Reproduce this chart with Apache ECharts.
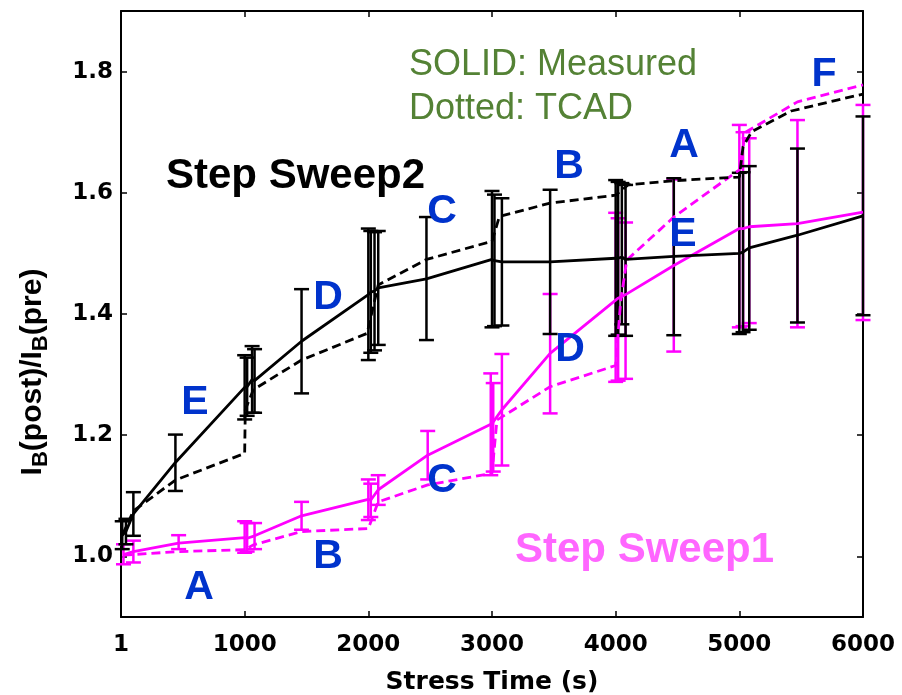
<!DOCTYPE html>
<html>
<head>
<meta charset="utf-8">
<script src="https://cdn.jsdelivr.net/npm/echarts@6/dist/echarts.min.js"></script>
<style>
  html, body { margin: 0; padding: 0; background: #fff; }
  #chart { width: 902px; height: 695px; }
</style>
</head>
<body>
<div id="chart"></div>
<script>
// Stress time ticks (s); the first tick is labelled "1"
const xTicks = [0, 1000, 2000, 3000, 4000, 5000, 6000];
const yTicks = [1.0, 1.2, 1.4, 1.6, 1.8];

// Step Sweep2 — measured (mean with min/max spread)
const sw2Time = [10, 40, 100, 440, 1000, 1020, 1060, 1080, 1460, 2000, 2020, 2050, 2080, 2470, 3000, 3020, 3080, 3470, 4000, 4020, 4050, 4080, 4470, 5000, 5030, 5080, 5470, 6000];
const sw2Mean = [1.035, 1.041, 1.070, 1.155, 1.279, 1.280, 1.292, 1.290, 1.355, 1.432, 1.436, 1.438, 1.443, 1.458, 1.490, 1.488, 1.486, 1.486, 1.492, 1.492, 1.494, 1.490, 1.495, 1.500, 1.502, 1.509, 1.530, 1.562];
const sw2Low  = [1.012, 1.020, 1.034, 1.108, 1.226, 1.232, 1.237, 1.237, 1.269, 1.324, 1.336, 1.340, 1.349, 1.357, 1.378, 1.380, 1.381, 1.367, 1.364, 1.366, 1.383, 1.364, 1.365, 1.367, 1.370, 1.374, 1.386, 1.398];
const sw2High = [1.058, 1.062, 1.106, 1.201, 1.332, 1.328, 1.347, 1.342, 1.441, 1.541, 1.537, 1.535, 1.537, 1.560, 1.603, 1.597, 1.591, 1.605, 1.621, 1.618, 1.616, 1.613, 1.624, 1.633, 1.634, 1.644, 1.673, 1.726];

// Step Sweep2 — TCAD
const sw2TcadTime = [10, 100, 440, 1000, 1005, 1070, 1460, 1990, 2080, 2470, 3000, 3060, 3470, 4000, 4100, 4470, 5000, 5030, 5100, 5420, 6000];
const sw2TcadVal  = [1.035, 1.075, 1.126, 1.170, 1.242, 1.275, 1.324, 1.368, 1.448, 1.490, 1.520, 1.561, 1.583, 1.596, 1.613, 1.620, 1.626, 1.676, 1.701, 1.735, 1.763];

// Step Sweep1 — measured (mean with min/max spread)
const sw1Time = [20, 100, 466, 1000, 1020, 1080, 1460, 2000, 2020, 2080, 2480, 2990, 3010, 3080, 3470, 4000, 4020, 4080, 4470, 5000, 5030, 5080, 5470, 6000];
const sw1Mean = [1.003, 1.008, 1.022, 1.031, 1.030, 1.034, 1.067, 1.094, 1.093, 1.110, 1.167, 1.218, 1.222, 1.242, 1.335, 1.423, 1.426, 1.432, 1.480, 1.541, 1.541, 1.544, 1.549, 1.568];
const sw1Low  = [0.987, 0.990, 1.012, 1.006, 1.008, 1.012, 1.044, 1.060, 1.065, 1.085, 1.127, 1.134, 1.140, 1.150, 1.236, 1.288, 1.290, 1.293, 1.338, 1.378, 1.380, 1.385, 1.378, 1.390];
const sw1High = [1.020, 1.026, 1.035, 1.058, 1.055, 1.055, 1.090, 1.127, 1.120, 1.134, 1.207, 1.302, 1.286, 1.334, 1.433, 1.567, 1.558, 1.551, 1.622, 1.712, 1.700, 1.690, 1.720, 1.745];

// Step Sweep1 — TCAD
const sw1TcadTime = [20, 466, 1000, 1070, 1460, 2000, 2080, 2480, 3000, 3040, 3470, 4000, 4040, 4090, 4470, 5000, 5050, 5470, 6000];
const sw1TcadVal  = [1.002, 1.008, 1.011, 1.019, 1.041, 1.046, 1.090, 1.118, 1.137, 1.225, 1.280, 1.315, 1.420, 1.489, 1.560, 1.638, 1.700, 1.750, 1.778];

const BLACK = '#000000';
const MAGENTA = '#ff00ff';
const BLUE = '#0033cc';
const GREEN = '#548235';

const zip = (a, b) => a.map((v, i) => [v, b[i]]);

function errorBars(name, times, lows, highs, color) {
  return {
    name: name,
    type: 'custom',
    xAxisIndex: 0, yAxisIndex: 0,
    data: times.map((t, i) => [t, lows[i], highs[i]]),
    encode: { x: 0, y: [1, 2] },
    z: 3,
    renderItem: function (params, api) {
      const lo = api.coord([api.value(0), api.value(1)]);
      const hi = api.coord([api.value(0), api.value(2)]);
      const w = 7.5;
      const st = { stroke: color, lineWidth: 2.5 };
      return {
        type: 'group',
        children: [
          { type: 'line', shape: { x1: lo[0], y1: lo[1], x2: hi[0], y2: hi[1] }, style: st },
          { type: 'line', shape: { x1: lo[0] - w, y1: lo[1], x2: lo[0] + w, y2: lo[1] }, style: st },
          { type: 'line', shape: { x1: hi[0] - w, y1: hi[1], x2: hi[0] + w, y2: hi[1] }, style: st }
        ]
      };
    }
  };
}

function curve(name, times, vals, color, dashed) {
  return {
    name: name,
    type: 'line',
    xAxisIndex: 0, yAxisIndex: 0,
    data: zip(times, vals),
    symbol: 'none',
    z: 4,
    lineStyle: { color: color, width: 2.8, type: dashed ? [9, 5] : 'solid' },
    animation: false
  };
}

const axisFont = { fontFamily: 'DejaVu Sans', fontWeight: 'bold', fontSize: 23, color: '#000' };
const tick = { inside: true, length: 6, lineStyle: { color: '#000', width: 1.5 } };
const line = { show: true, onZero: false, lineStyle: { color: '#000', width: 2 } };

function letter(txt, cx, cy) {
  return {
    type: 'text', x: cx, y: cy, z: 10,
    style: { text: txt, fill: BLUE, font: 'bold 41px "Liberation Sans", Arial', align: 'center', verticalAlign: 'middle' }
  };
}

const chart = echarts.init(document.getElementById('chart'), null, { renderer: 'canvas' });

chart.setOption({
  animation: false,
  backgroundColor: '#ffffff',
  grid: { left: 121, right: 39, top: 11, bottom: 78, containLabel: false, outerBoundsMode: 'none' },
  xAxis: [
    {
      type: 'value', position: 'bottom', min: 0, max: 6000,
      axisLine: line, axisTick: Object.assign({ customValues: xTicks }, tick),
      splitLine: { show: false },
      axisLabel: Object.assign({ customValues: xTicks, margin: 17, formatter: v => (v === 0 ? '1' : String(v)) }, axisFont),
      name: 'Stress Time (s)', nameLocation: 'middle', nameGap: 53,
      nameTextStyle: { fontFamily: 'DejaVu Sans', fontWeight: 'bold', fontSize: 25, color: '#000' }
    },
    {
      type: 'value', position: 'top', min: 0, max: 6000,
      axisLine: line, axisTick: Object.assign({ customValues: xTicks }, tick),
      axisLabel: { show: false }, splitLine: { show: false }
    }
  ],
  yAxis: [
    {
      type: 'value', position: 'left', min: 0.9, max: 1.9,
      axisLine: line, axisTick: Object.assign({ customValues: yTicks }, tick),
      splitLine: { show: false },
      axisLabel: Object.assign({ customValues: yTicks, margin: 8, formatter: v => v.toFixed(1) }, axisFont)
    },
    {
      type: 'value', position: 'right', min: 0.9, max: 1.9,
      axisLine: line, axisTick: Object.assign({ customValues: yTicks }, tick),
      axisLabel: { show: false }, splitLine: { show: false }
    }
  ],
  series: [
    errorBars('Step Sweep1 spread', sw1Time, sw1Low, sw1High, MAGENTA),
    curve('Step Sweep1 measured', sw1Time, sw1Mean, MAGENTA, false),
    curve('Step Sweep1 TCAD', sw1TcadTime, sw1TcadVal, MAGENTA, true),
    errorBars('Step Sweep2 spread', sw2Time, sw2Low, sw2High, BLACK),
    curve('Step Sweep2 measured', sw2Time, sw2Mean, BLACK, false),
    curve('Step Sweep2 TCAD', sw2TcadTime, sw2TcadVal, BLACK, true)
  ],
  graphic: [
    {
      type: 'text', x: 35, y: 372, rotation: Math.PI / 2, z: 10,
      style: {
        text: '{m|I}{s|B}{m|(post)/I}{s|B}{m|(pre)}',
        align: 'center', verticalAlign: 'middle',
        rich: {
          m: { fontFamily: 'Liberation Sans', fontWeight: 'bold', fontSize: 30, lineHeight: 34, verticalAlign: 'top', fill: '#000' },
          s: { fontFamily: 'Liberation Sans', fontWeight: 'bold', fontSize: 22, lineHeight: 24, verticalAlign: 'bottom', fill: '#000' }
        }
      }
    },
    { type: 'text', x: 409, y: 65, z: 10, style: { text: 'SOLID: Measured', fill: GREEN, font: '36px "Liberation Sans", Arial', verticalAlign: 'middle' } },
    { type: 'text', x: 409, y: 109, z: 10, style: { text: 'Dotted: TCAD', fill: GREEN, font: '36px "Liberation Sans", Arial', verticalAlign: 'middle' } },
    { type: 'text', x: 166, y: 176, z: 10, style: { text: 'Step Sweep2', fill: '#000', font: 'bold 42px "Liberation Sans", Arial', verticalAlign: 'middle' } },
    { type: 'text', x: 515, y: 550, z: 10, style: { text: 'Step Sweep1', fill: '#ff66ff', font: 'bold 42px "Liberation Sans", Arial', verticalAlign: 'middle' } },
    letter('A', 199, 588),
    letter('B', 328, 557),
    letter('C', 442, 481),
    letter('D', 570, 350),
    letter('E', 683, 235),
    letter('F', 824, 75),
    letter('A', 684, 146),
    letter('B', 569, 167),
    letter('C', 442, 212),
    letter('D', 328, 298),
    letter('E', 195, 403)
  ]
});
</script>
</body>
</html>
